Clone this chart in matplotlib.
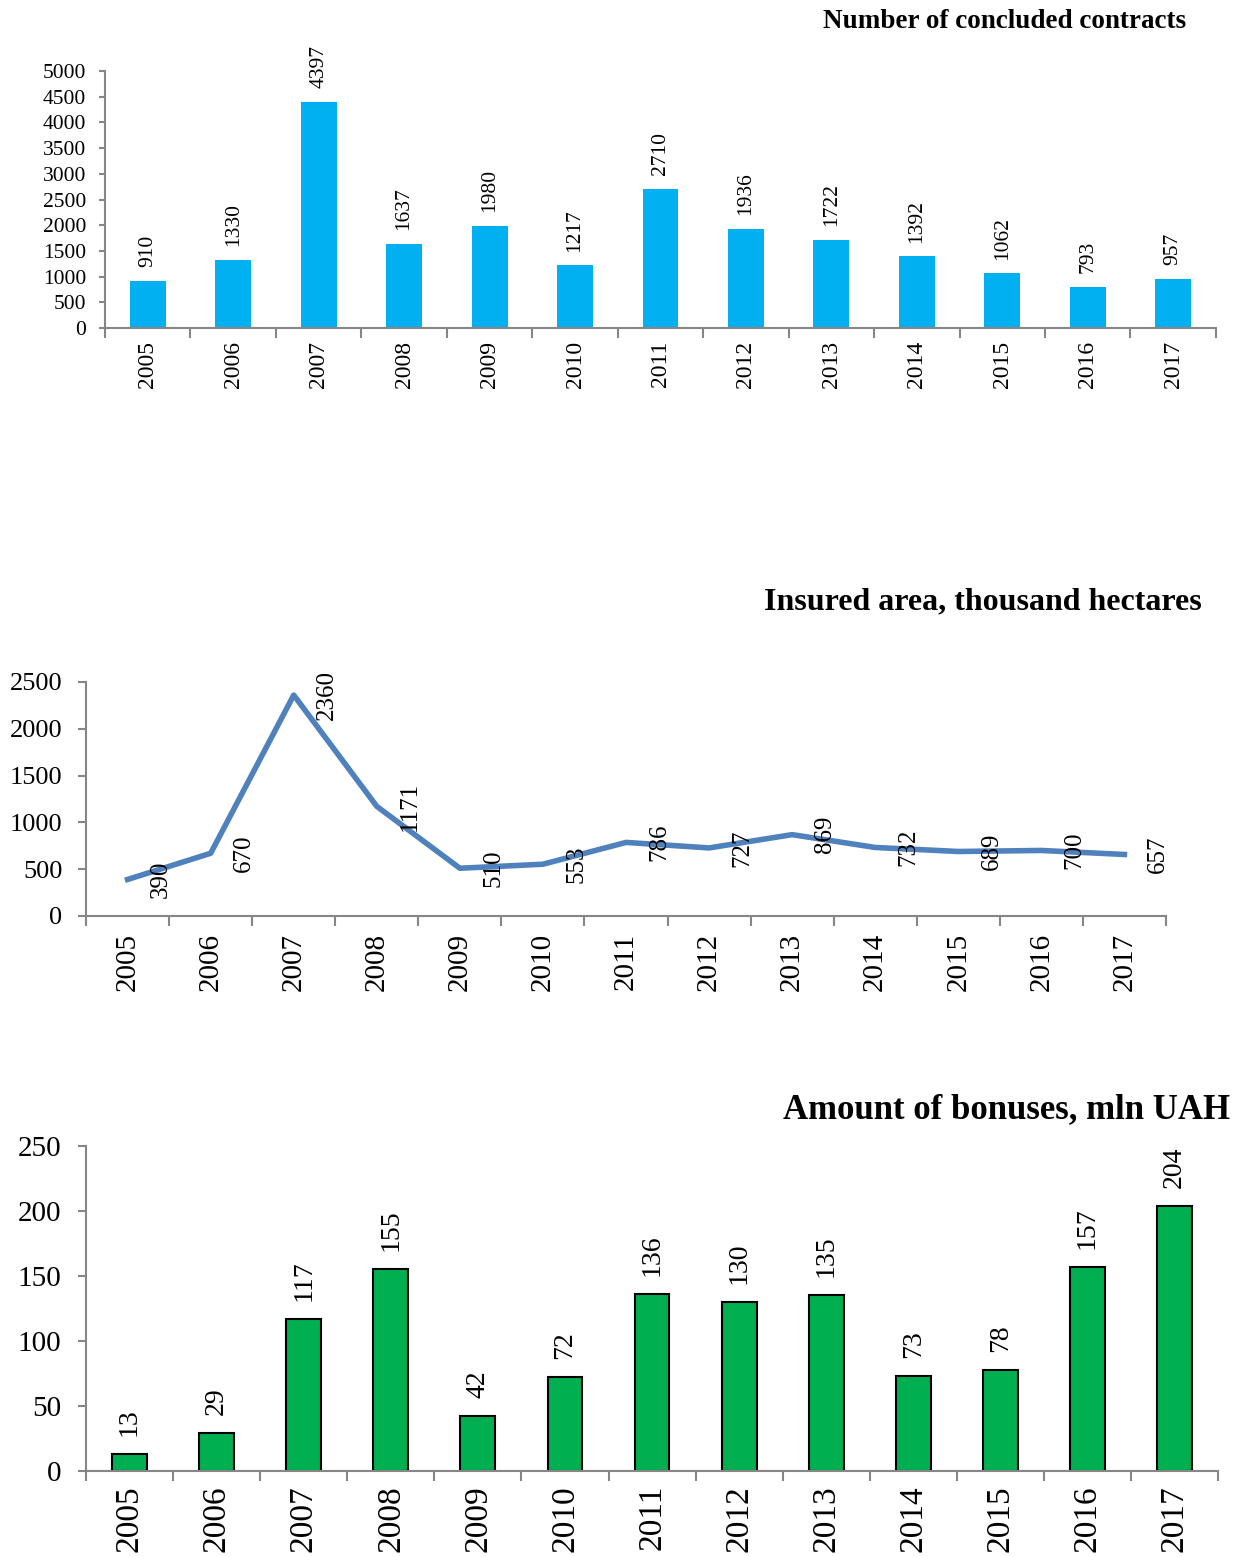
import numpy as np
import matplotlib
matplotlib.use('Agg')
from matplotlib import pyplot as plt
from matplotlib.ticker import FixedLocator, NullFormatter

plt.rcParams['font.family'] = ['Liberation Serif', 'DejaVu Serif']
plt.rcParams['figure.dpi'] = 100

# 数据
years = ['2005', '2006', '2007', '2008', '2009', '2010', '2011',
         '2012', '2013', '2014', '2015', '2016', '2017']
contracts = [910, 1330, 4397, 1637, 1980, 1217, 2710, 1936, 1722, 1392, 1062, 793, 957]
area = [390, 670, 2360, 1171, 510, 553, 786, 727, 869, 732, 689, 700, 657]
bonuses = [13, 29, 117, 155, 42, 72, 136, 130, 135, 73, 78, 157, 204]

AXIS_GRAY = '#868686'


def style_axis(ax, n, ylim, ystep, ysize, xsize, ypad, xpad, ylen=6):
    for s in ['top', 'right']:
        ax.spines[s].set_visible(False)
    for s in ['left', 'bottom']:
        ax.spines[s].set_color(AXIS_GRAY)
        ax.spines[s].set_linewidth(1.5)
    ax.set_xlim(-0.5, n - 0.5)
    ax.set_ylim(*ylim)
    ax.set_yticks(np.arange(ylim[0], ylim[1] + 1, ystep))
    ax.set_xticks(np.arange(n))
    ax.set_xticklabels(years, rotation=90, fontsize=xsize)
    # 分类边界上的刻度线
    ax.xaxis.set_minor_locator(FixedLocator(np.arange(n + 1) - 0.5))
    ax.xaxis.set_minor_formatter(NullFormatter())
    ax.tick_params(axis='x', which='major', length=0, pad=xpad)
    ax.tick_params(axis='x', which='minor', length=7, width=1.5, color=AXIS_GRAY)
    ax.tick_params(axis='y', length=ylen, width=1.5, color=AXIS_GRAY, labelsize=ysize, pad=ypad)


fig = plt.figure(figsize=(12.4, 15.57))
x = np.arange(len(years))

# 合同数量
ax1 = fig.add_axes([0.0847, 0.7893, 0.8959, 0.1651])
ax1.bar(x, contracts, width=0.42, color='#00B0F0')
style_axis(ax1, len(years), (0, 5000), 500, 15.5, 17, 9, 9, ylen=4.5)
for xi, v in zip(x, contracts):
    ax1.annotate(str(v), (xi, v), xytext=(0, 10), textcoords='offset points',
                 rotation=90, ha='center', va='bottom', fontsize=15.5)
fig.text(0.9565, 0.9865, 'Number of concluded contracts', ha='right', va='center',
         fontsize=19.5, fontweight='bold')

# 保险面积
ax2 = fig.add_axes([0.0694, 0.4117, 0.8709, 0.1503])
ax2.plot(x, area, color='#4F81BD', linewidth=4.0, solid_joinstyle='round')
style_axis(ax2, len(years), (0, 2500), 500, 19, 21, 11, 12)
for xi, v in zip(x, area):
    ax2.annotate(str(v), (xi, v), xytext=(24, 0), textcoords='offset points',
                 rotation=90, ha='center', va='center', fontsize=18)
fig.text(0.9694, 0.6134, 'Insured area, thousand hectares', ha='right', va='center',
         fontsize=23, fontweight='bold')

# 保费
ax3 = fig.add_axes([0.0694, 0.0552, 0.9129, 0.2088])
ax3.bar(x, bonuses, width=0.4, color='#00B050', edgecolor='black', linewidth=1.5)
style_axis(ax3, len(years), (0, 250), 50, 21, 24, 12, 10)
for xi, v in zip(x, bonuses):
    ax3.annotate(str(v), (xi, v), xytext=(0, 13), textcoords='offset points',
                 rotation=90, ha='center', va='bottom', fontsize=20)
fig.text(0.9919, 0.2871, 'Amount of bonuses, mln UAH', ha='right', va='center',
         fontsize=25, fontweight='bold')

plt.savefig('out.png', dpi=100)
